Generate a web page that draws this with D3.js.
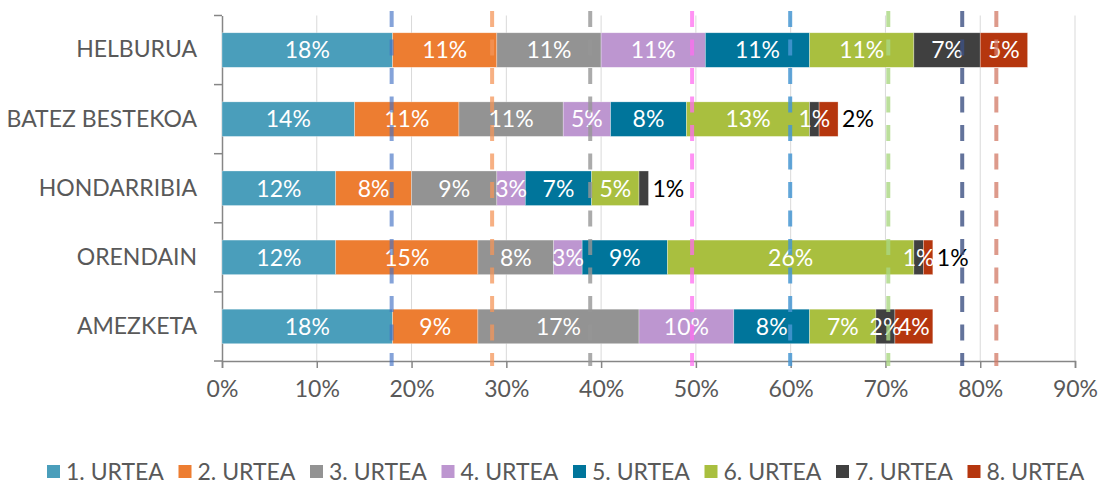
<!DOCTYPE html>
<html><head><meta charset="utf-8">
<script src="https://cdn.jsdelivr.net/npm/d3@7"></script>
<style>body{margin:0;background:#fff}svg{display:block}text{font-family:Lato,"Open Sans",sans-serif}</style>
</head><body><svg id="c" width="1100" height="484"></svg>
<script>
const categories = ["HELBURUA","BATEZ BESTEKOA","HONDARRIBIA","ORENDAIN","AMEZKETA"];
const seriesNames = ["1. URTEA","2. URTEA","3. URTEA","4. URTEA","5. URTEA","6. URTEA","7. URTEA","8. URTEA"];
// values per category (fractions), one entry per series
const helburua    = [0.18,0.11,0.11,0.11,0.11,0.11,0.07,0.05];
const batez       = [0.14,0.11,0.11,0.05,0.08,0.13,0.01,0.02];
const hondarribia = [0.12,0.08,0.09,0.03,0.07,0.05,0.01,0.00];
const orendain    = [0.12,0.15,0.08,0.03,0.09,0.26,0.01,0.01];
const amezketa    = [0.18,0.09,0.17,0.10,0.08,0.07,0.02,0.04];
// reference (dashed) cumulative marks
const refValues = [0.179,0.285,0.3885,0.496,0.5995,0.703,0.781,0.817];
const xTicks = [0,0.1,0.2,0.3,0.4,0.5,0.6,0.7,0.8,0.9];

const barColors = ["#4a9ebb","#ed7d31","#939393","#bd96d0","#00759b","#a9bf3f","#404040","#b5360e"];
const refColors = ["rgba(68,114,196,0.65)","rgba(244,150,90,0.75)","rgba(150,150,150,0.8)","rgba(255,110,240,0.75)","rgba(70,150,210,0.85)","rgba(170,215,130,0.8)","rgba(60,80,130,0.8)","rgba(210,120,100,0.75)"];

const rows = [helburua,batez,hondarribia,orendain,amezketa];
const svg = d3.select("#c");
const x = d3.scaleLinear().domain([0,0.9]).range([222,1075]);
const y = d3.scaleBand().domain(categories).range([15.5,361]).paddingInner(0.5).paddingOuter(0.25);
const pct = d3.format(".0%");
const FS = "23px";

// gridlines
svg.append("g").selectAll("line").data(xTicks.slice(1)).join("line")
  .attr("x1",d=>x(d)).attr("x2",d=>x(d)).attr("y1",15.5).attr("y2",361)
  .attr("stroke","#d9d9d9").attr("stroke-width",1);

// x axis
const xa = svg.append("g").attr("transform","translate(0,361)")
  .call(d3.axisBottom(x).tickValues(xTicks).tickFormat(pct).tickSize(7).tickPadding(13));
xa.select(".domain").attr("stroke","#868686").attr("stroke-width",1.5);
xa.selectAll(".tick line").attr("stroke","#868686").attr("stroke-width",1.5);
xa.selectAll("text").attr("fill","#595959").style("font-size",FS).style("font-family","Lato");

// y axis
const ya = svg.append("g").attr("transform","translate(222,0)")
  .call(d3.axisLeft(y).tickSize(0).tickPadding(25));
ya.select(".domain").attr("stroke","#868686").attr("stroke-width",1.5);
ya.selectAll("text").attr("fill","#595959").style("font-size",FS).style("font-family","Lato");
// band boundary ticks
svg.append("g").selectAll("line").data(d3.range(categories.length+1)).join("line")
  .attr("x1",214).attr("x2",222)
  .attr("y1",i=>15.5+i*y.step()).attr("y2",i=>15.5+i*y.step())
  .attr("stroke","#868686").attr("stroke-width",1.5);

// bars
const segs = [];
rows.forEach((vals,ci)=>{
  let acc=0;
  const lastIdx = vals.reduce((m,v,i)=>v>0?i:m,-1);
  vals.forEach((v,si)=>{
    segs.push({cat:categories[ci],si,v,x0:acc,x1:acc+v,last:si===lastIdx});
    acc+=v;
  });
});
const bars = segs.filter(d=>d.v>0);
svg.append("g").selectAll("rect").data(bars).join("rect")
  .attr("x",d=>x(d.x0)).attr("width",d=>x(d.x1)-x(d.x0))
  .attr("y",d=>y(d.cat)).attr("height",y.bandwidth())
  .attr("fill",d=>barColors[d.si]).attr("stroke","rgba(255,255,255,0.5)").attr("stroke-width",0.6);

// labels
const outside = d=> d.last && (x(d.x1)-x(d.x0))<25;
svg.append("g").selectAll("text").data(bars).join("text")
  .attr("x",d=>outside(d)? x(d.x1)+4 : (x(d.x0)+x(d.x1))/2)
  .attr("y",d=>y(d.cat)+y.bandwidth()/2)
  .attr("dy","0.36em")
  .attr("text-anchor",d=>outside(d)?"start":"middle")
  .attr("fill",d=>outside(d)?"#000":"#fff")
  .style("font-size",FS)
  .text(d=>pct(d.v));

// dashed reference lines
svg.append("g").selectAll("line").data(refValues).join("line")
  .attr("x1",d=>x(d)).attr("x2",d=>x(d)).attr("y1",11).attr("y2",366)
  .attr("stroke",(d,i)=>refColors[i]).attr("stroke-width",4).attr("stroke-dasharray","16,12.5");

// legend
const lg = svg.append("g").selectAll("g").data(seriesNames).join("g")
  .attr("transform",(d,i)=>`translate(${47+i*131.5},0)`);
lg.append("rect").attr("x",0).attr("y",465).attr("width",13).attr("height",13).attr("fill",(d,i)=>barColors[i]);
lg.append("text").attr("x",19).attr("y",472).attr("dy","0.36em").attr("fill","#595959")
  .style("font-size",FS).text(d=>d);
</script></body></html>
